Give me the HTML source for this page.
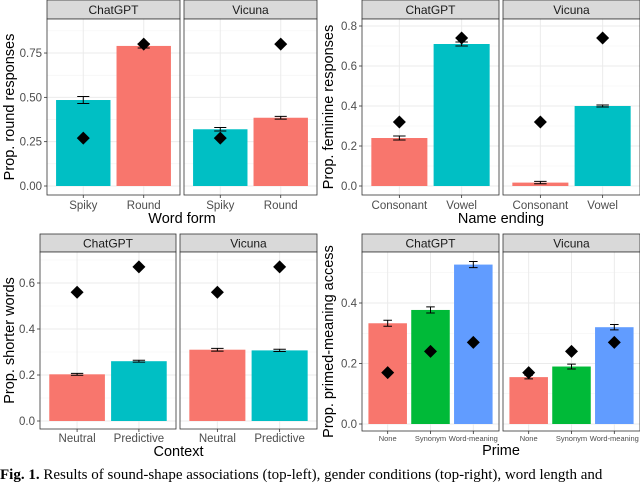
<!DOCTYPE html>
<html><head><meta charset="utf-8">
<style>
body{margin:0;background:#fff;width:640px;height:471px;overflow:hidden;position:relative;font-family:"Liberation Sans",sans-serif}
svg{position:absolute;left:0;top:0}
#cap{position:absolute;left:0;top:467px;font-family:"Liberation Serif",serif;font-size:15px;white-space:nowrap;color:#000}
</style></head><body>
<svg id="chart" width="640" height="471"></svg>
<div id="cap"><b>Fig. 1.</b> Results of sound-shape associations (top-left), gender conditions (top-right), word length and</div>
<script>
// Panel A: word form
const catsA = ["Spiky","Round"];
const gptA = [0.485,0.79], gptAerr=[0.02,0.012], vicA=[0.32,0.385], vicAerr=[0.01,0.008], humA=[0.27,0.80];
const ticksA=[0,0.25,0.5,0.75], tickLabA=["0.00","0.25","0.50","0.75"];
// Panel B: name ending
const catsB = ["Consonant","Vowel"];
const gptB=[0.24,0.71], gptBerr=[0.01,0.01], vicB=[0.017,0.40], vicBerr=[0.006,0.005], humB=[0.32,0.74];
const ticksB=[0,0.2,0.4,0.6,0.8], tickLabB=["0.0","0.2","0.4","0.6","0.8"];
// Panel C: context
const catsC=["Neutral","Predictive"];
const gptC=[0.203,0.26], gptCerr=[0.004,0.004], vicC=[0.31,0.307], vicCerr=[0.006,0.005], humC=[0.56,0.67];
const ticksC=[0,0.2,0.4,0.6], tickLabC=["0.0","0.2","0.4","0.6"];
// Panel D: prime
const catsD=["None","Synonym","Word-meaning"];
const gptD=[0.333,0.377,0.527], gptDerr=[0.01,0.01,0.01], vicD=[0.155,0.19,0.32], vicDerr=[0.006,0.008,0.009], humD=[0.17,0.24,0.27];
const ticksD=[0,0.2,0.4], tickLabD=["0.0","0.2","0.4"];

const svg=document.getElementById('chart');
const NS='http://www.w3.org/2000/svg';
function mk(tag,attrs,parent){const e=document.createElementNS(NS,tag);for(const k in attrs)e.setAttribute(k,attrs[k]);(parent||svg).appendChild(e);return e;}

function drawFig(cfg){
  const g=mk('g',{});
  
  
  const y=v=>cfg.y0-v*cfg.ppu;
  const yMax=(cfg.y0-cfg.top)/cfg.ppu;
  const yt=mk('text',{x:cfg.ytx,y:(cfg.top+cfg.bot)/2,'font-size':14.5,'text-anchor':'middle',fill:'#000',transform:`rotate(-90 ${cfg.ytx} ${(cfg.top+cfg.bot)/2})`},g);
  yt.textContent=cfg.ytitle;
  
  
  cfg.ticks.forEach((t,i)=>{
    const tl=mk('text',{x:cfg.panels[0][0]-5,y:y(t)+4,'font-size':11.5,'text-anchor':'end',fill:'#4d4d4d'},g);
    tl.textContent=cfg.tickLab[i];
    
    
    mk('line',{x1:cfg.panels[0][0]-3,x2:cfg.panels[0][0],y1:y(t),y2:y(t),stroke:'#333','stroke-width':0.8},g);
  });
  const step=cfg.ticks[1]-cfg.ticks[0];
  const n=cfg.cats.length;
  cfg.panels.forEach((p,pi)=>{
    const [x0,x1]=p;
    const w=x1-x0, unit=w/(n+0.2);
    const xc=i=>x0+(i+0.6)*unit;
    const strip=mk('rect',{x:x0,y:cfg.stripTop,width:w,height:cfg.top-cfg.stripTop,fill:'#d9d9d9',stroke:'#333','stroke-width':0.8},g);
    
    
    const st=mk('text',{x:(x0+x1)/2,y:cfg.stripTop+(cfg.top-cfg.stripTop)/2+4.5,'font-size':12,'text-anchor':'middle',fill:'#1a1a1a'},g);
    st.textContent=pi===0?'ChatGPT':'Vicuna';
    
    
    mk('rect',{x:x0,y:cfg.top,width:w,height:cfg.bot-cfg.top,fill:'#fff'},g);
    for(let v=step/2;v<yMax;v+=step){mk('line',{x1:x0,x2:x1,y1:y(v),y2:y(v),stroke:'#f2f2f2','stroke-width':0.6},g);}
    cfg.ticks.forEach(t=>mk('line',{x1:x0,x2:x1,y1:y(t),y2:y(t),stroke:'#ebebeb','stroke-width':1},g));
    for(let i=0;i<n;i++)mk('line',{x1:xc(i),x2:xc(i),y1:cfg.top,y2:cfg.bot,stroke:'#ebebeb','stroke-width':1},g);
    const vals=pi===0?cfg.gpt:cfg.vic, errs=pi===0?cfg.gptErr:cfg.vicErr;
    for(let i=0;i<n;i++){
      const bw=unit*0.9;
      const b=mk('rect',{x:xc(i)-bw/2,y:y(vals[i]),width:bw,height:y(0)-y(vals[i]),fill:cfg.colors[i]},g);
      
      
      const ew=unit*0.2, hi=y(vals[i]+errs[i]), lo=y(vals[i]-errs[i]);
      mk('path',{d:`M${xc(i)-ew/2},${hi}H${xc(i)+ew/2}M${xc(i)},${hi}V${lo}M${xc(i)-ew/2},${lo}H${xc(i)+ew/2}`,stroke:'#000','stroke-width':1,fill:'none'},g);
      const hy=y(cfg.hum[i]), cx=xc(i), r=6.5;
      const d=mk('path',{d:`M${cx},${hy-r}L${cx+r},${hy}L${cx},${hy+r}L${cx-r},${hy}Z`,fill:'#000'},g);
      
      
      mk('line',{x1:cx,x2:cx,y1:cfg.bot,y2:cfg.bot+3,stroke:'#333','stroke-width':0.8},g);
      const xl=mk('text',{x:cx,y:cfg.bot+cfg.xlabDy,'font-size':cfg.xlabSize,'text-anchor':'middle',fill:'#4d4d4d'},g);
      xl.textContent=cfg.cats[i];
      
      
    }
    mk('rect',{x:x0,y:cfg.top,width:w,height:cfg.bot-cfg.top,fill:'none',stroke:'#333','stroke-width':0.8},g);
  });
  const xt=mk('text',{x:(cfg.panels[0][0]+cfg.panels[1][1])/2,y:cfg.xty,'font-size':14.5,'text-anchor':'middle',fill:'#000'},g);
  xt.textContent=cfg.xtitle;
  
  
}
const R='#F8766D',C='#00BFC4',G='#00BA38',B='#619CFF';
drawFig({name:'word-form-chart',cats:catsA,gpt:gptA,gptErr:gptAerr,vic:vicA,vicErr:vicAerr,hum:humA,ticks:ticksA,tickLab:tickLabA,
 panels:[[47,180],[184,317]],stripTop:0,top:19,bot:195,y0:186,ppu:177.3,ytx:14,ytitle:'Prop. round responses',xtitle:'Word form',xty:223,xlabDy:14,xlabSize:11.5,colors:[C,R]});
drawFig({name:'name-ending-chart',cats:catsB,gpt:gptB,gptErr:gptBerr,vic:vicB,vicErr:vicBerr,hum:humB,ticks:ticksB,tickLab:tickLabB,
 panels:[[362,499],[503,640]],stripTop:0,top:19,bot:195,y0:186,ppu:200,ytx:333,ytitle:'Prop. feminine responses',xtitle:'Name ending',xty:223,xlabDy:14,xlabSize:11.5,colors:[R,C]});
drawFig({name:'context-chart',cats:catsC,gpt:gptC,gptErr:gptCerr,vic:vicC,vicErr:vicCerr,hum:humC,ticks:ticksC,tickLab:tickLabC,
 panels:[[40,176],[180,317]],stripTop:234,top:252,bot:429,y0:421,ppu:230,ytx:14,ytitle:'Prop. shorter words',xtitle:'Context',xty:456,xlabDy:13,xlabSize:11.5,colors:[R,C]});
drawFig({name:'prime-chart',cats:catsD,gpt:gptD,gptErr:gptDerr,vic:vicD,vicErr:vicDerr,hum:humD,ticks:ticksD,tickLab:tickLabD,
 panels:[[362,499],[503,640]],stripTop:234,top:252,bot:431,y0:424,ppu:302.5,ytx:333,ytitle:'Prop. primed-meaning access',xtitle:'Prime',xty:455,xlabDy:10,xlabSize:7.5,colors:[R,G,B]});
</script>
</body></html>
